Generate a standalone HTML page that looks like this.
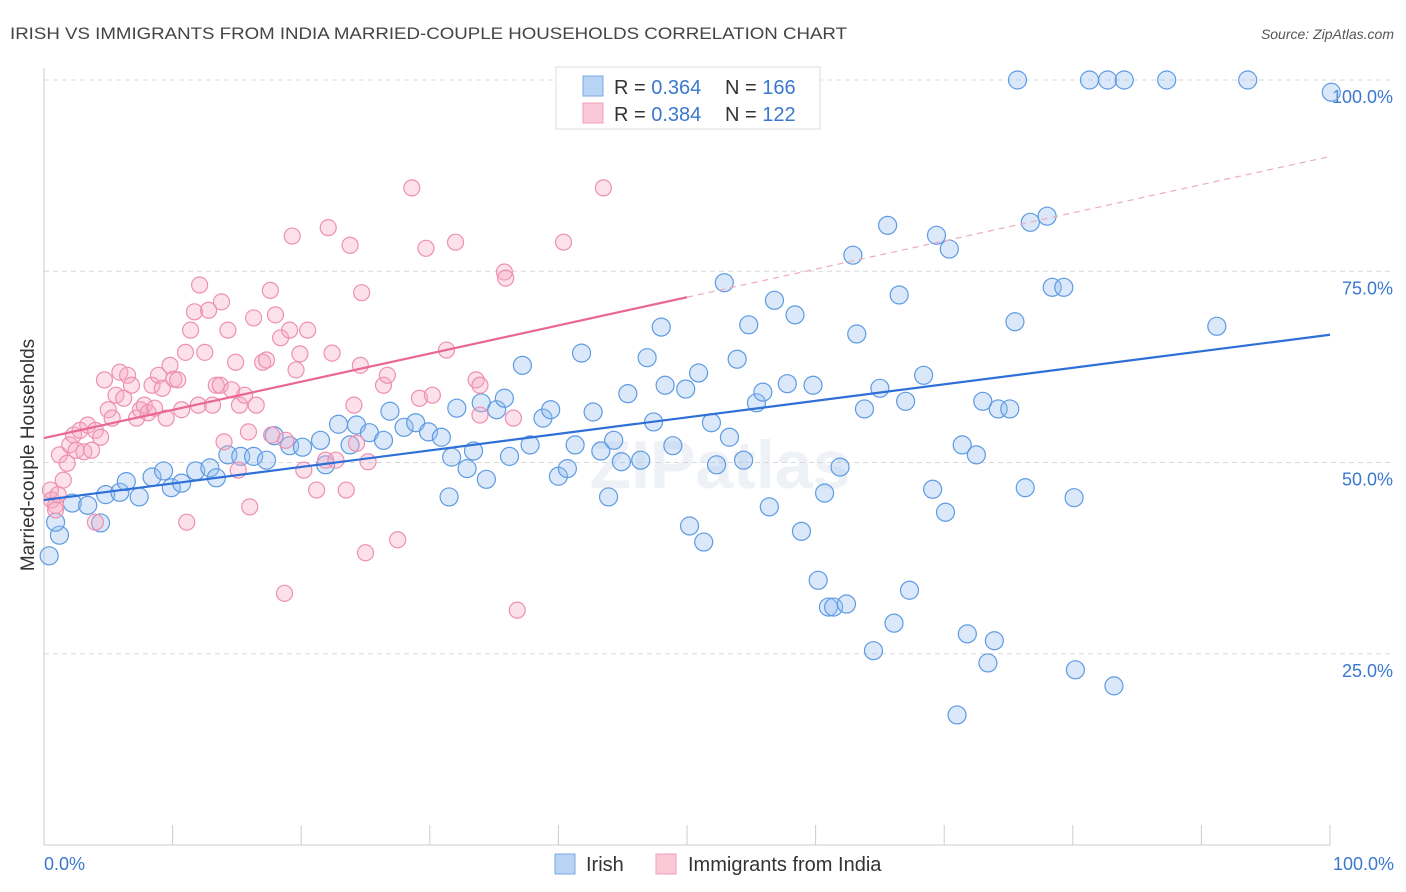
<!DOCTYPE html>
<html><head><meta charset="utf-8">
<style>
body{margin:0;background:#fff;font-family:"Liberation Sans",sans-serif;}
svg{display:block}
</style></head>
<body>
<svg id="chart" width="1406" height="892" xmlns="http://www.w3.org/2000/svg">
<text x="10" y="39" font-size="17" fill="#444" textLength="837" lengthAdjust="spacingAndGlyphs">IRISH VS IMMIGRANTS FROM INDIA MARRIED-COUPLE HOUSEHOLDS CORRELATION CHART</text>
<text x="1394" y="39" font-size="14" fill="#555" font-style="italic" text-anchor="end">Source: ZipAtlas.com</text>
<text x="720" y="488" font-size="68" fill="#eef1f6" text-anchor="middle" font-weight="bold">ZIPatlas</text>
<g id="grid"></g>
<g id="axes"></g>
<g id="pts"></g>
<g id="trends"></g>
<text transform="translate(34,455) rotate(-90)" font-size="19" fill="#333" text-anchor="middle">Married-couple Households</text>
<g>
<rect x="556" y="67" width="264" height="62" fill="#fff" stroke="#ddd"/>
<rect x="583" y="76" width="20" height="20" fill="#b9d3f5" stroke="#7aa8e8"/>
<rect x="583" y="103" width="20" height="20" fill="#fbc8d8" stroke="#f0a0ba"/>
<text x="614" y="94" font-size="20" fill="#333">R = <tspan fill="#3a78d0">0.364</tspan></text>
<text x="725" y="94" font-size="20" fill="#333">N = <tspan fill="#3a78d0">166</tspan></text>
<text x="614" y="121" font-size="20" fill="#333">R = <tspan fill="#3a78d0">0.384</tspan></text>
<text x="725" y="121" font-size="20" fill="#333">N = <tspan fill="#3a78d0">122</tspan></text>
</g>
<g>
<rect x="555" y="854" width="20" height="20" fill="#b9d3f5" stroke="#7aa8e8"/>
<text x="586" y="871" font-size="20" fill="#333">Irish</text>
<rect x="656" y="854" width="20" height="20" fill="#fbc8d8" stroke="#f0a0ba"/>
<text x="688" y="871" font-size="20" fill="#333">Immigrants from India</text>
</g>
</svg>
<script>
const yTicks=[25,50,75,100];
const yTickLabels=["25.0%","50.0%","75.0%","100.0%"];
const xTicks=[0,10,20,30,40,50,60,70,80,90,100];
const irishX=[0.4,1.2,0.9,2.2,3.4,4.4,4.8,5.9,6.4,7.4,8.4,9.3,9.9,10.7,11.8,12.9,13.4,14.3,15.3,16.3,17.3,17.9,19.1,20.1,21.5,21.9,22.9,23.8,24.3,25.3,26.4,26.9,28.0,28.9,29.9,30.9,31.5,31.7,32.1,32.9,33.4,34.0,34.4,35.2,35.8,36.2,37.2,37.8,38.8,39.4,40.0,40.7,41.3,41.8,42.7,43.3,43.9,44.3,44.9,45.4,46.4,46.9,47.4,48.0,48.3,48.9,49.9,50.2,50.9,51.3,51.9,52.3,52.9,53.3,53.9,54.4,54.8,55.4,55.9,56.4,56.8,57.8,58.4,58.9,59.8,60.2,60.7,61.0,61.4,61.9,62.4,62.9,63.2,63.8,64.5,65.0,65.6,66.1,66.5,67.0,67.3,68.4,69.1,69.4,70.1,70.4,71.0,71.4,71.8,72.5,73.0,73.4,73.9,74.2,75.1,75.5,75.7,76.3,76.7,78.0,78.4,79.3,80.1,80.2,81.3,82.7,83.2,84.0,87.3,91.2,93.6,100.1];
const irishY=[37.8,40.5,42.2,44.7,44.4,42.1,45.8,46.1,47.5,45.5,48.1,48.9,46.7,47.3,48.9,49.3,48.0,51.0,50.8,50.8,50.3,53.5,52.2,52.0,52.9,49.7,55.0,52.3,54.9,53.9,52.9,56.7,54.6,55.2,54.0,53.3,45.5,50.7,57.1,49.2,51.5,57.8,47.8,56.9,58.4,50.8,62.7,52.3,55.8,56.9,48.2,49.2,52.3,64.3,56.6,51.5,45.5,52.9,50.1,59.0,50.3,63.7,55.3,67.7,60.1,52.2,59.6,41.7,61.7,39.6,55.2,49.7,73.5,53.3,63.5,50.3,68.0,57.8,59.2,44.2,71.2,60.3,69.3,41.0,60.1,34.6,46.0,31.1,31.1,49.4,31.5,77.1,66.8,57.0,25.4,59.7,81.0,29.0,71.9,58.0,33.3,61.4,46.5,79.7,43.5,77.9,17.0,52.3,27.6,51.0,58.0,23.8,26.7,57.0,57.0,68.4,100,46.7,81.4,82.2,72.9,72.9,45.4,22.9,100,100,20.8,100,100,67.8,100,98.4];
const indiaX=[0.5,0.6,0.9,0.9,1.1,1.2,1.5,1.8,2.0,2.3,2.5,2.8,3.1,3.4,3.7,4.0,4.4,4.7,5.0,5.3,5.6,5.9,6.2,6.5,6.8,7.2,7.5,7.8,8.1,8.4,8.6,8.9,9.2,9.5,9.8,10.1,10.4,10.7,11.0,11.4,11.7,12.0,12.1,12.5,12.8,13.1,13.4,13.7,13.8,14.0,14.3,14.6,14.9,15.1,15.2,15.6,15.9,16.0,16.3,16.5,17.0,17.3,17.6,17.7,18.0,18.4,18.8,18.7,19.1,19.3,19.6,19.9,20.2,20.5,21.2,21.9,22.1,22.4,22.7,23.5,23.8,24.1,24.3,24.6,24.7,25.0,25.2,26.4,26.7,27.5,28.6,29.7,31.3,32.0,33.6,33.9,35.8,35.9,36.5,36.8,40.4,43.5,4.0,11.1,29.2,30.2,33.9];
const indiaY=[46.4,45.1,44.4,43.8,45.8,51.0,47.7,49.9,52.3,53.6,51.6,54.2,51.4,54.9,51.6,54.2,53.3,60.8,56.9,55.8,58.8,61.8,58.4,61.4,60.1,55.8,56.9,57.5,56.5,60.1,57.1,61.4,59.7,55.8,62.7,60.9,60.8,56.9,64.4,67.3,69.7,57.5,73.2,64.4,69.9,57.5,60.1,60.1,71.0,52.7,67.3,59.5,63.1,49.0,57.5,58.8,54.0,44.2,68.9,57.5,63.1,63.4,72.5,53.6,69.3,66.3,52.9,32.9,67.3,79.6,62.1,64.2,49.0,67.3,46.4,50.3,80.7,64.3,50.3,46.4,78.4,57.5,52.5,62.7,72.2,38.2,50.1,60.1,61.4,39.9,85.9,78.0,64.7,78.8,60.8,60.1,74.9,74.1,55.8,30.7,78.8,85.9,42.2,42.2,58.4,58.8,56.2];
const trendIntercepts=[45.1,53.2];
const trendSlopes=[0.216,0.368];

const NS="http://www.w3.org/2000/svg";
const X0=44,X1=1330,Y0=845,Y100=80;
function sx(v){return X0+(X1-X0)*v/100;}
function sy(v){return Y0-(Y0-Y100)*v/100;}
function mk(tag,attrs,parent){const e=document.createElementNS(NS,tag);for(const k in attrs)e.setAttribute(k,attrs[k]);parent.appendChild(e);return e;}
const grid=document.getElementById('grid'),axes=document.getElementById('axes'),pts=document.getElementById('pts'),tr=document.getElementById('trends');
yTicks.forEach((t,i)=>{
  const l=mk('line',{x1:X0,x2:1394,y1:sy(t),y2:sy(t),stroke:'#d8d8d8','stroke-dasharray':'5,4'},grid);
  
  
  const tx=mk('text',{x:1393,y:sy(t)+23,'font-size':18,fill:'#3a78d0','text-anchor':'end'},axes);
  tx.textContent=yTickLabels[i];
  
  
});
const ax=mk('line',{x1:X0,x2:X1,y1:Y0,y2:Y0,stroke:'#ccc'},axes);


const ay=mk('line',{x1:X0,x2:X0,y1:68,y2:Y0,stroke:'#ccc'},axes);


xTicks.forEach(t=>{
  const l=mk('line',{x1:sx(t),x2:sx(t),y1:Y0-20,y2:Y0,stroke:'#ccc'},axes);
  
  
});
const xl0=mk('text',{x:44,y:870,'font-size':18,fill:'#3a78d0'},axes);xl0.textContent='0.0%';


const xl1=mk('text',{x:1394,y:870,'font-size':18,fill:'#3a78d0','text-anchor':'end'},axes);xl1.textContent='100.0%';


irishX.forEach((x,i)=>{
  const c=mk('circle',{cx:sx(x),cy:sy(irishY[i]),r:9,fill:'rgba(150,190,240,0.35)',stroke:'#5e9be2','stroke-width':1.2},pts);
  
  
});
indiaX.forEach((x,i)=>{
  const c=mk('circle',{cx:sx(x),cy:sy(indiaY[i]),r:8,fill:'rgba(245,170,195,0.35)',stroke:'#ee90b0','stroke-width':1.2},pts);
  
  
});
const b=mk('line',{x1:sx(0),y1:sy(trendIntercepts[0]),x2:sx(100),y2:sy(trendIntercepts[0]+trendSlopes[0]*100),stroke:'#2e6fd8','stroke-width':2.2},tr);


const p=mk('line',{x1:sx(0),y1:sy(trendIntercepts[1]),x2:sx(50),y2:sy(trendIntercepts[1]+trendSlopes[1]*50),stroke:'#e8688f','stroke-width':2.2},tr);


const pd=mk('line',{x1:sx(50),y1:sy(trendIntercepts[1]+trendSlopes[1]*50),x2:sx(100),y2:sy(trendIntercepts[1]+trendSlopes[1]*100),stroke:'#eeaabf','stroke-width':1.2,'stroke-dasharray':'6,5'},tr);


</script>
</body></html>
